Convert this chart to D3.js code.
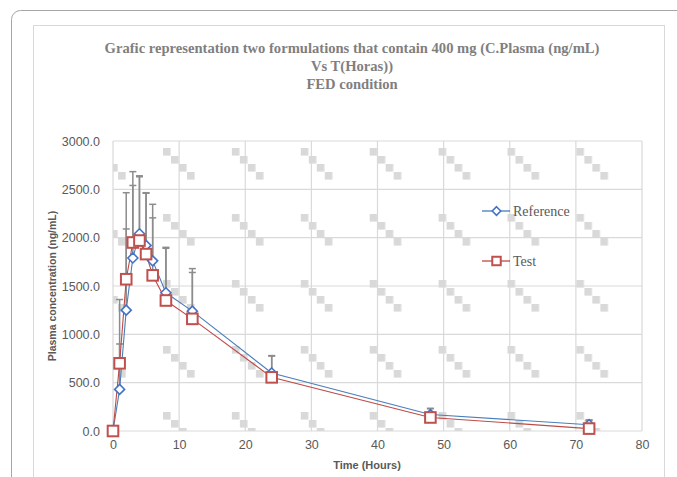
<!DOCTYPE html>
<html>
<head>
<meta charset="utf-8">
<script src="https://cdn.jsdelivr.net/npm/d3@7/dist/d3.min.js"></script>
<style>
  html, body { margin: 0; padding: 0; background: #ffffff; }
  svg { display: block; }
</style>
</head>
<body>
<script>
// ---- Data ----
const times = [0, 1, 2, 3, 4, 5, 6, 8, 12, 24, 48, 72];
const referenceValues = [0, 430, 1250, 1790, 2040, 1920, 1760, 1430, 1240, 600, 170, 65];
const referenceSD     = [0, 470, 840, 750, 600, 545, 445, 470, 440, 180, 65, 50];
const testValues      = [0, 700, 1570, 1950, 1970, 1830, 1610, 1350, 1160, 555, 140, 25];
const testSD          = [0, 660, 895, 733, 660, 630, 735, 540, 480, 220, 90, 85];
const xTicks = [0, 10, 20, 30, 40, 50, 60, 70, 80];
const yTicks = [0, 500, 1000, 1500, 2000, 2500, 3000];
const titleLines = [
  "Grafic representation two formulations that contain 400 mg (C.Plasma (ng/mL)",
  "Vs T(Horas))",
  "FED condition"
];
const seriesNames = ["Reference", "Test"];

// ---- Layout ----
const W = 677, H = 477;
const plot = { left: 113, right: 642, top: 141, bottom: 431 };

const svg = d3.select("body").append("svg").attr("width", W).attr("height", H);

// frames
svg.append("rect").attr("x", 11.5).attr("y", 10.5).attr("width", 700).attr("height", 500)
  .attr("rx", 9).attr("fill", "none").attr("stroke", "#a6a6a6").attr("stroke-width", 1);
svg.append("rect").attr("x", 33.5).attr("y", 25.5).attr("width", 631).attr("height", 480)
  .attr("fill", "#ffffff").attr("stroke", "#d9d9d9").attr("stroke-width", 1);

const x = d3.scaleLinear().domain([0, 80]).range([plot.left, plot.right]);
const y = d3.scaleLinear().domain([0, 3000]).range([plot.bottom, plot.top]);

// background pattern
const defs = svg.append("defs");
const pat = defs.append("pattern").attr("id", "bgpat").attr("patternUnits", "userSpaceOnUse")
  .attr("x", 163).attr("y", 148).attr("width", 68.9).attr("height", 66);
[0, 1, 2, 3].forEach(i => {
  pat.append("rect").attr("x", i * 8).attr("y", i * 8).attr("width", 7.6).attr("height", 7.6)
    .attr("fill", "#d9d9d9");
});

svg.append("rect").attr("x", plot.left).attr("y", plot.top)
  .attr("width", plot.right - plot.left).attr("height", plot.bottom - plot.top)
  .attr("fill", "url(#bgpat)");

// gridlines
const grid = svg.append("g");
grid.selectAll("line.h").data(yTicks).join("line")
  .attr("x1", plot.left).attr("x2", plot.right)
  .attr("y1", d => y(d)).attr("y2", d => y(d))
  .attr("stroke", "#d9d9d9").attr("stroke-width", 1.2);
grid.selectAll("line.v").data(xTicks).join("line")
  .attr("y1", plot.top).attr("y2", plot.bottom)
  .attr("x1", d => x(d)).attr("x2", d => x(d))
  .attr("stroke", "#d9d9d9").attr("stroke-width", 1.2);

// axes tick labels via d3 axes
const xAxis = d3.axisBottom(x).tickValues(xTicks).tickSize(0).tickPadding(9).tickFormat(d3.format("d"));
const yAxis = d3.axisLeft(y).tickValues(yTicks).tickSize(0).tickPadding(13).tickFormat(d3.format(".1f"));
const gx = svg.append("g").attr("transform", `translate(0,${plot.bottom})`).call(xAxis);
const gy = svg.append("g").attr("transform", `translate(${plot.left},0)`).call(yAxis);
[gx, gy].forEach(g => {
  g.select(".domain").remove();
  g.selectAll("text").attr("fill", "#595959").style("font-family", "'Liberation Sans', Arial, sans-serif")
    .style("font-size", "12.5px");
});

// axis titles
svg.append("text").attr("x", 367).attr("y", 469).attr("text-anchor", "middle")
  .style("font-family", "'Liberation Sans', Arial, sans-serif").style("font-size", "11px")
  .style("font-weight", "bold").attr("fill", "#595959").text("Time (Hours)");
svg.append("text").attr("transform", `translate(56,${(plot.top + plot.bottom) / 2}) rotate(-90)`)
  .attr("text-anchor", "middle")
  .style("font-family", "'Liberation Sans', Arial, sans-serif").style("font-size", "10.5px")
  .style("font-weight", "bold").attr("fill", "#595959").text("Plasma concentration (ng/mL)");

// title
const tl = svg.append("text").attr("text-anchor", "middle")
  .style("font-family", "'Liberation Serif', 'Times New Roman', serif").style("font-size", "14.6px")
  .style("font-weight", "bold").attr("fill", "#7f7f7f");
titleLines.forEach((t, i) => {
  tl.append("tspan").attr("x", 352).attr("y", 53 + i * 18).text(t);
});

// series
const series = [
  { name: seriesNames[0], vals: referenceValues, sd: referenceSD, line: "#4a7ebb", marker: "diamond" },
  { name: seriesNames[1], vals: testValues, sd: testSD, line: "#be4b48", marker: "square" }
];

const content = svg.append("g");

// error bars
series.forEach(s => {
  const eb = content.append("g");
  times.forEach((t, i) => {
    if (s.sd[i] <= 0) return;
    const top = s.vals[i] + s.sd[i];
    eb.append("line").attr("x1", x(t)).attr("x2", x(t)).attr("y1", y(s.vals[i])).attr("y2", y(top))
      .attr("stroke", "#8c8c8c").attr("stroke-width", 1.5);
    eb.append("line").attr("x1", x(t) - 3.5).attr("x2", x(t) + 3.5).attr("y1", y(top)).attr("y2", y(top))
      .attr("stroke", "#8c8c8c").attr("stroke-width", 1.5);
  });
});

// lines
const lineGen = d3.line().x((d, i) => x(times[i])).y(d => y(d));
series.forEach(s => {
  content.append("path").datum(s.vals).attr("d", lineGen).attr("fill", "none")
    .attr("stroke", s.line).attr("stroke-width", 1.1);
});

// markers
function drawMarker(g, type, cx, cy, scale) {
  if (type === "diamond") {
    const r = 5 * scale;
    g.append("path").attr("d", `M${cx},${cy - r}L${cx + r},${cy}L${cx},${cy + r}L${cx - r},${cy}Z`)
      .attr("fill", "#ffffff").attr("stroke", "#4472c4").attr("stroke-width", 1.6);
  } else {
    const r = 5.3 * scale;
    g.append("rect").attr("x", cx - r).attr("y", cy - r).attr("width", 2 * r).attr("height", 2 * r)
      .attr("fill", "#ffffff").attr("stroke", "#c0504d").attr("stroke-width", 2);
  }
}
series.forEach(s => {
  const mg = content.append("g");
  s.vals.forEach((v, i) => drawMarker(mg, s.marker, x(times[i]), y(v), 1));
});

// legend
const legend = svg.append("g");
const legendY = [211, 261];
series.forEach((s, i) => {
  const ly = legendY[i];
  legend.append("line").attr("x1", 482).attr("x2", 510).attr("y1", ly).attr("y2", ly)
    .attr("stroke", s.line).attr("stroke-width", 1.3);
  drawMarker(legend, s.marker, 496.5, ly, s.marker === "diamond" ? 0.85 : 0.8);
  legend.append("text").attr("x", 513).attr("y", ly + 5)
    .style("font-family", "'Liberation Serif', 'Times New Roman', serif").style("font-size", "14px")
    .attr("fill", "#595959").text(s.name);
});
</script>
</body>
</html>
